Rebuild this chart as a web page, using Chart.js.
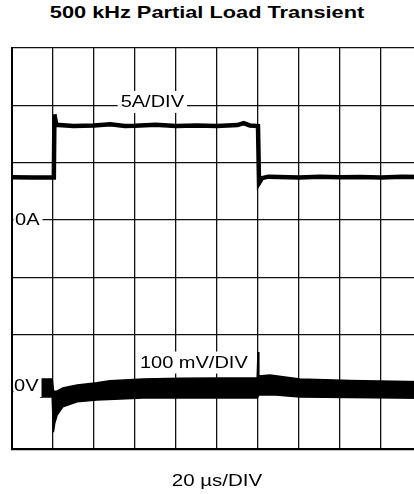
<!DOCTYPE html>
<html>
<head>
<meta charset="utf-8">
<script src="https://cdn.jsdelivr.net/npm/chart.js@4.4.1/dist/chart.umd.min.js"></script>
<style>
  html, body { margin: 0; padding: 0; background: #fff; overflow: hidden; }
  #wrap { position: relative; width: 414px; height: 494px; overflow: hidden; }
  #title {
    position: absolute; left: 0; top: 4px; width: 414px; text-align: center;
    font: bold 17px "Liberation Sans", Arial, sans-serif; line-height: 17px; color: #000;
    transform: scaleX(1.28); transform-origin: 207px 0;
  }
  #scope { position: absolute; left: 0; top: 0; }
</style>
</head>
<body>
<div id="wrap">
  <div id="title">500 kHz Partial Load Transient</div>
  <canvas id="scope" width="440" height="494"></canvas>
</div>
<script>
// time axis in µs, 20 µs per division
const timeTicks = [0, 20, 40, 60, 80, 100, 120, 140, 160, 180, 200];

// load current (A), 5 A per division
const currentT = [0, 10, 20.4, 20.7, 21.6, 30, 40, 48, 55, 60, 70, 80, 90, 100, 110, 113, 116, 120, 120.5, 122, 125, 130, 140, 150, 160, 170, 180, 190, 200];
const currentA = [3.72, 3.7, 3.7, 9.2, 8.3, 8.2, 8.25, 8.35, 8.2, 8.22, 8.3, 8.2, 8.25, 8.2, 8.28, 8.45, 8.25, 8.2, 3.22, 3.65, 3.78, 3.75, 3.7, 3.78, 3.72, 3.75, 3.7, 3.78, 3.75];

// output voltage ripple band (mV, AC coupled), 100 mV per division
const voltTopT = [13.6, 19.6, 20.3, 22, 24.8, 31.8, 41.4, 47.8, 64, 82, 100, 119.6, 120, 120.4, 125.8, 140.4, 165, 200];
const voltTopMv = [15.7, 15.7, -6, -5, 0, 5.2, 9.2, 12.7, 15.7, 17, 17.5, 17.5, 63, 21, 22.7, 15.7, 13, 11];
const voltLowT = [13.6, 19.6, 20.2, 20.8, 22, 24.8, 31.8, 41.4, 64, 100, 119.6, 120.4, 128.8, 140.4, 200];
const voltLowMv = [-15.7, -15.7, -77, -62, -47, -32.6, -24, -21, -17.5, -17.5, -17.5, -12.2, -12.2, -15.7, -18];

function pts(xs, ys) { return xs.map((x, i) => ({ x: x, y: ys[i] })); }

// scope labels, placed in data coordinates
const notes = [
  { text: '5A/DIV', axis: 'y', x: 53, y: 10.3 },
  { text: '0A', axis: 'y', x: 1.5, y: 0 },
  { text: '0V', axis: 'yV', x: 1, y: 3.5 },
  { text: '100 mV/DIV', axis: 'yV', x: 62.4, y: 44.5 }
];

const scopeText = {
  id: 'scopeText',
  afterDatasetsDraw(chart) {
    const ctx = chart.ctx;
    const area = chart.chartArea;
    const sx = 1.25;
    ctx.save();
    ctx.font = '16px "Liberation Sans", Arial, sans-serif';
    ctx.textBaseline = 'middle';
    notes.forEach(n => {
      const px = chart.scales.x.getPixelForValue(n.x);
      const py = chart.scales[n.axis].getPixelForValue(n.y);
      const w = ctx.measureText(n.text).width * sx;
      const left = Math.max(px - 3, area.left + 1.5);
      ctx.fillStyle = '#fff';
      ctx.fillRect(left, py - 11, px + w + 3 - left, 22);
      ctx.fillStyle = '#000';
      ctx.save();
      ctx.translate(px, py + 1);
      ctx.scale(sx, 1);
      ctx.fillText(n.text, 0, 0);
      ctx.restore();
    });
    // time base label
    ctx.font = '16px "Liberation Sans", Arial, sans-serif';
    ctx.textAlign = 'center';
    ctx.textBaseline = 'alphabetic';
    ctx.translate((area.left + area.right) / 2, 486);
    ctx.scale(1.28, 1);
    ctx.fillText('20 µs/DIV', 0, 0);
    ctx.restore();
  }
};

new Chart(document.getElementById('scope'), {
  type: 'line',
  data: {
    datasets: [
      { data: pts(currentT, currentA), yAxisID: 'y', borderColor: '#000', borderWidth: 4.5, pointRadius: 0, tension: 0, fill: false },
      { data: pts(voltTopT, voltTopMv), yAxisID: 'yV', borderColor: '#000', borderWidth: 1.5, pointRadius: 0, tension: 0, fill: '+1', backgroundColor: '#000' },
      { data: pts(voltLowT, voltLowMv), yAxisID: 'yV', borderColor: '#000', borderWidth: 1.5, pointRadius: 0, tension: 0, fill: false }
    ]
  },
  options: {
    responsive: false,
    animation: false,
    layout: { padding: { left: 12, top: 48, right: 18, bottom: 44.6 } },
    plugins: { legend: { display: false }, tooltip: { enabled: false } },
    scales: {
      x: {
        type: 'linear', min: timeTicks[0], max: timeTicks[timeTicks.length - 1],
        afterBuildTicks: s => { s.ticks = timeTicks.map(v => ({ value: v })); },
        ticks: { display: false },
        grid: { color: '#111', lineWidth: 1.3, drawTicks: false },
        border: { display: true, color: '#000', width: 2 }
      },
      y: {
        type: 'linear', min: -20, max: 15,
        ticks: { display: false, stepSize: 5 },
        grid: { color: '#111', lineWidth: 1.3, drawTicks: false },
        border: { display: true, color: '#000', width: 2 }
      },
      yV: { type: 'linear', display: false, min: -107, max: 593 }
    }
  },
  plugins: [scopeText]
});
</script>
</body>
</html>
